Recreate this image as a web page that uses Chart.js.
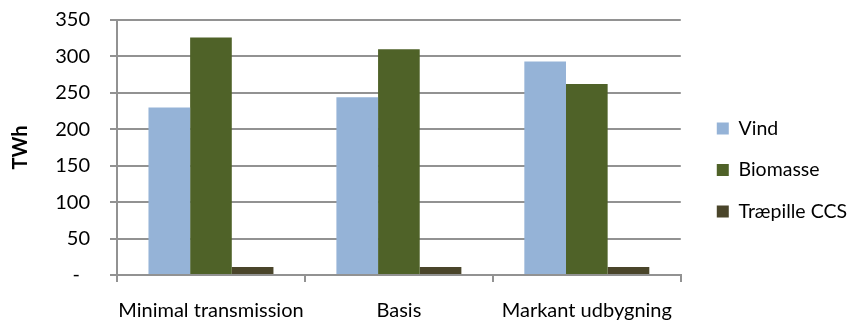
<!DOCTYPE html>
<html>
<head>
<meta charset="utf-8">
<script src="https://cdn.jsdelivr.net/npm/chart.js@4.4.0/dist/chart.umd.min.js"></script>
<style>
  html, body { margin: 0; padding: 0; background: #ffffff; }
  #wrap { width: 849px; height: 320px; position: relative; }
</style>
</head>
<body>
<div id="wrap"><canvas id="c"></canvas></div>
<script>
// Scenario categories and energy production per source (TWh)
const categories = ['Minimal transmission', 'Basis', 'Markant udbygning'];
const vind = [230, 244, 293];
const biomasse = [326, 310, 262];
const traepilleCCS = [11, 11, 11];
const seriesNames = ['Vind', 'Biomasse', 'Træpille CCS'];
const yTickValues = [0, 50, 100, 150, 200, 250, 300, 350];
const yTickLabels = ['-\u2002', '50', '100', '150', '200', '250', '300', '350'];

const FONT = 'Lato, "Open Sans", sans-serif';
const GRID = '#929292';

function draw() {
  new Chart(document.getElementById('c'), {
    type: 'bar',
    data: {
      labels: categories,
      datasets: [
        { label: seriesNames[0], data: vind, backgroundColor: '#95B3D7' },
        { label: seriesNames[1], data: biomasse, backgroundColor: '#4F6228' },
        { label: seriesNames[2], data: traepilleCCS, backgroundColor: '#4A452A' }
      ]
    },
    options: {
      responsive: true,
      maintainAspectRatio: false,
      animation: false,
      layout: { padding: { top: 20, right: -8, bottom: 0, left: 0 } },
      datasets: { bar: { categoryPercentage: 0.665, barPercentage: 1.0 } },
      plugins: {
        tooltip: { enabled: false },
        legend: {
          position: 'right',
          align: 'center',
          maxWidth: 240,
          labels: {
            boxWidth: 12,
            boxHeight: 12,
            padding: 22,
            color: '#000000',
            font: { family: FONT, size: 19.5 }
          }
        }
      },
      scales: {
        x: {
          grid: { offset: true, drawOnChartArea: false, color: GRID, lineWidth: 2, tickLength: 7 },
          border: { color: GRID, width: 2 },
          ticks: {
            color: '#000000', font: { family: FONT, size: 20 },
            padding: 17, maxRotation: 0, autoSkip: false
          },
          afterFit: (s) => { s.height = 45; }
        },
        y: {
          min: 0,
          max: 350,
          afterBuildTicks: (s) => { s.ticks = yTickValues.map(v => ({ value: v })); },
          // long tick slot, only the 7px next to the axis is stroked
          grid: {
            color: GRID, lineWidth: 2, tickLength: 27,
            tickBorderDash: [7, 20], tickBorderDashOffset: 7
          },
          border: { color: GRID, width: 2 },
          ticks: {
            color: '#000000',
            font: { family: FONT, size: 20 },
            padding: 0,
            autoSkip: false,
            callback: (v) => yTickLabels[yTickValues.indexOf(v)]
          },
          title: {
            display: true,
            text: 'TWh',
            color: '#000000',
            font: { family: FONT, size: 20, weight: 'bold' },
            padding: { top: 9, bottom: 0 }
          },
          afterFit: (s) => { s.width = 117; }
        },
        gap: {
          position: 'right',
          display: true,
          grid: { display: false },
          border: { display: false },
          ticks: { display: false },
          afterFit: (s) => { s.width = 14; }
        }
      }
    }
  });
}

Promise.all([
  document.fonts.load('20px Lato'),
  document.fonts.load('bold 20px Lato')
]).then(draw, draw);
</script>
</body>
</html>
